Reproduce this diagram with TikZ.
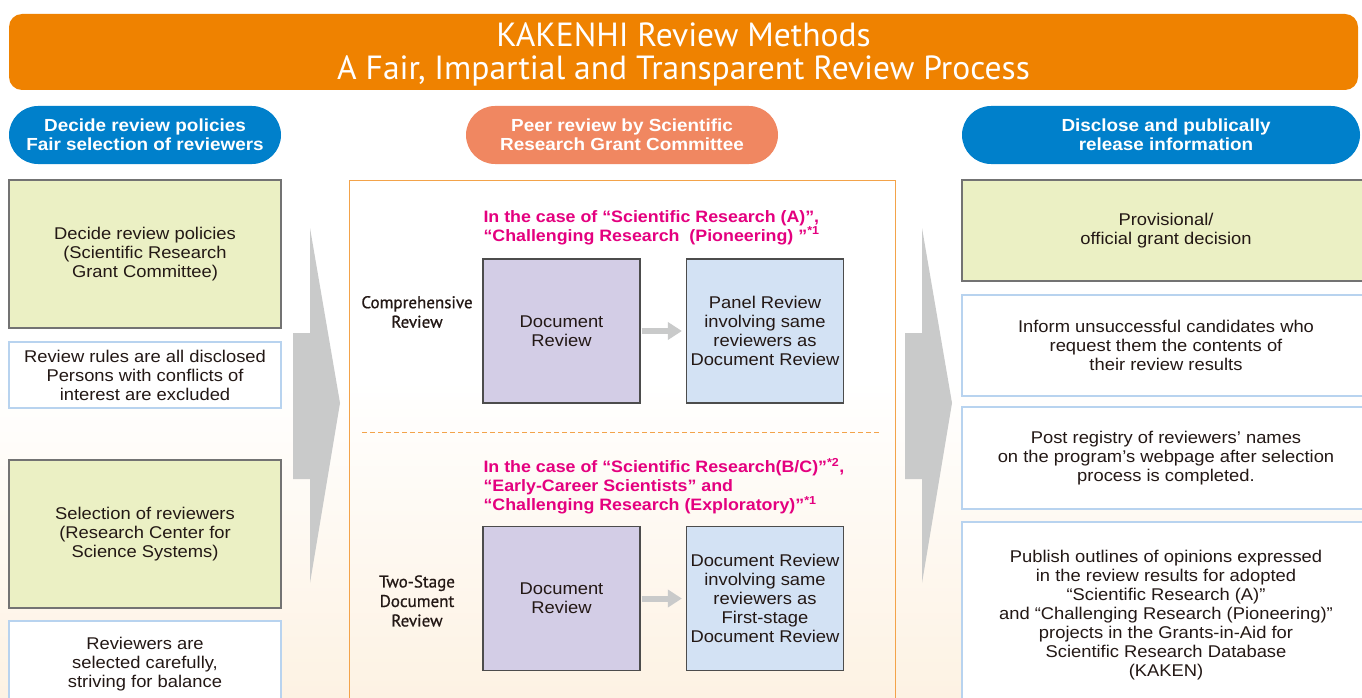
\documentclass[tikz,border=0pt]{standalone}
\usepackage{fontspec}
\setmainfont[FakeStretch = 1.08]{Liberation Sans}
\newfontfamily\titlefont{PT Sans}
\newfontfamily\labelfont[FakeBold = 0.8]{PT Sans}
\usetikzlibrary{arrows.meta}

\definecolor{kakorange}{HTML}{EF8200}
\definecolor{kakblue}{HTML}{0080CB}
\definecolor{kaksalmon}{HTML}{F08761}
\definecolor{kakgreen}{HTML}{EBF0C4}
\definecolor{kaklav}{HTML}{D3CDE6}
\definecolor{kaksky}{HTML}{D3E2F4}
\definecolor{kakline}{HTML}{B8D3EF}
\definecolor{kakframe}{HTML}{F3A34A}
\definecolor{kakpink}{HTML}{E4007F}
\definecolor{kakpeach}{HTML}{FDF2E3}
\definecolor{kakgray}{HTML}{C9CACA}
\definecolor{kaktext}{HTML}{231815}

\begin{document}
\begin{tikzpicture}[x = 1pt, y = -1pt, line width = 1pt,
                    pill/.style = {rounded corners = 29pt, fill = kakblue, text = white, align = center,
                                   minimum height = 58pt, inner sep = 0pt,
                                   font = \bfseries\fontsize{17.5}{19}\selectfont},
                    greenbox/.style = {draw = black!55, line width = 1.2pt, fill = kakgreen, align = center,
                                       text = kaktext, inner sep = 0pt, font = \fontsize{17}{19}\selectfont},
                    notebox/.style = {draw = kakline, line width = 2.5pt, fill = white, align = center,
                                      text = kaktext, inner sep = 0pt, font = \fontsize{17}{19}\selectfont},
                    docbox/.style = {draw = black!70, line width = 1.2pt, fill = kaklav, align = center,
                                     text = kaktext, minimum width = 157pt, minimum height = 144pt,
                                     inner sep = 0pt, font = \fontsize{17}{19}\selectfont},
                    panelbox/.style = {docbox, fill = kaksky},
                    casetext/.style = {anchor = west, align = left, text = kakpink, inner sep = 0pt,
                                       font = \bfseries\fontsize{16.5}{19}\selectfont},
                    kindtext/.style = {align = center, text = kaktext, font = \labelfont\fontsize{17}{19.5}\selectfont},
                    step arrow/.style = {line width = 6pt, draw = kakgray,
                                         -{Triangle[length = 14pt, width = 17pt]}, shorten > = 4pt, shorten < = 1pt}]

\useasboundingbox (0,0) rectangle (1362,698);

% background
\fill[white] (0,0) rectangle (1362,698);
\shade[top color = white, bottom color = kakpeach] (0,380) rectangle (1362,698);

% title bar
\fill[kakorange, rounded corners = 13pt] (9,14) rectangle (1358,90);
\node (title) at (683.5,54) [text = white, align = center, inner sep = 0pt,
      font = \titlefont\fontsize{33.5}{33}\selectfont]
      {KAKENHI Review Methods\\A Fair, Impartial and Transparent Review Process};

% column heads
\node [pill, minimum width = 272pt] (polHead) at (145,135) {Decide review policies\\Fair selection of reviewers};
\node [pill, minimum width = 312pt, fill = kaksalmon] (peerHead) at (622,135) {Peer review by Scientific\\Research Grant Committee};
\node [pill, minimum width = 398pt] (discHead) at (1161,135) {\hspace*{10pt}Disclose and publically\\\hspace*{10pt}release information};

% big arrows
\fill[kakgray] (310,228) -- (340,403) -- (310,583) -- (310,479) -- (293,479) -- (293,333) -- (310,333) -- cycle;
\fill[kakgray] (922,228) -- (952,403) -- (922,583) -- (922,479) -- (905,479) -- (905,333) -- (922,333) -- cycle;

% left column
\node [greenbox, minimum width = 272pt, minimum height = 148pt] (decide) at (145,254)
      {Decide review policies\\(Scientific Research\\Grant Committee)};
\node [notebox, minimum width = 272pt, minimum height = 66pt] (rules) at (145,375)
      {Review rules are all disclosed\\Persons with conflicts of\\interest are excluded};
\node [greenbox, minimum width = 272pt, minimum height = 148pt] (select) at (145,534)
      {Selection of reviewers\\(Research Center for\\Science Systems)};
\node [notebox, minimum width = 272pt, minimum height = 86pt] (balance) at (145,664)
      {Reviewers are\\selected carefully,\\striving for balance};

% centre frame
\node [draw = kakframe, line width = 1pt, minimum width = 546pt, minimum height = 540pt] (frame) at (622,450) {};
\draw[kakframe, dash pattern = on 5pt off 3pt] (362,432) -- (880,432);

\node [casetext] (caseA) at (483,227.5)
      {In the case of “Scientific Research (A)”,\\“Challenging Research\ \ (Pioneering) ”\textsuperscript{*1}};
\node [kindtext] (compLbl) at (417,312) {Comprehensive\\Review};
\node [docbox] (docA) at (561.5,331) {Document\\Review};
\node [panelbox] (panelA) at (765,331) {Panel Review\\involving same\\reviewers as\\Document Review};

\node [casetext] (caseB) at (483,486)
      {In the case of “Scientific Research(B/C)”\textsuperscript{*2},\\“Early-Career Scientists” and\\“Challenging Research (Exploratory)”\textsuperscript{*1}};
\node [kindtext] (twoLbl) at (417,601) {Two-Stage\\Document\\Review};
\node [docbox] (docB) at (561.5,598.5) {Document\\Review};
\node [panelbox] (panelB) at (765,598.5) {Document Review\\involving same\\reviewers as\\First-stage\\Document Review};

\draw[step arrow] (docA) -- (panelA);
\draw[step arrow] (docB) -- (panelB);

% right column
\node [greenbox, minimum width = 408pt, minimum height = 101pt] (provis) at (1166,230.5)
      {Provisional/\\official grant decision};
\node [notebox, minimum width = 408pt, minimum height = 101pt] (inform) at (1166,345.5)
      {Inform unsuccessful candidates who\\request them the contents of\\their review results};
\node [notebox, minimum width = 408pt, minimum height = 102pt] (registry) at (1166,458)
      {Post registry of reviewers' names\\on the program's webpage after selection\\process is completed.};
\node [notebox, minimum width = 408pt, minimum height = 186pt] (publish) at (1166,615)
      {Publish outlines of opinions expressed\\in the review results for adopted\\“Scientific Research (A)”\\and “Challenging Research (Pioneering)”\\projects in the Grants-in-Aid for\\Scientific Research Database\\(KAKEN)};
\end{tikzpicture}
\end{document}
